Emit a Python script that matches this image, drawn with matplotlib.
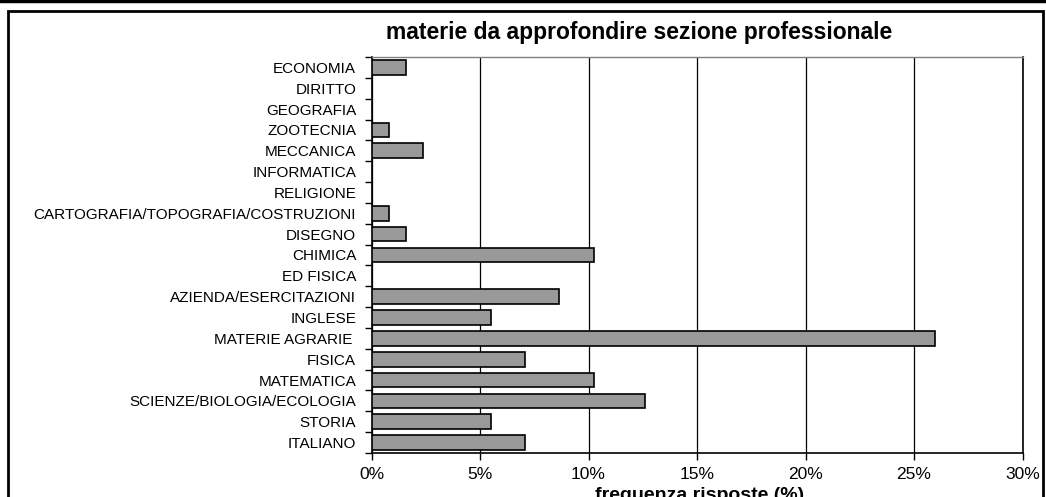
import matplotlib.pyplot as plt
import matplotlib.patches as mpatches
import matplotlib.lines as mlines
import numpy as np

# Dati (dal basso verso l'alto)
materie = ['ITALIANO', 'STORIA', 'SCIENZE/BIOLOGIA/ECOLOGIA', 'MATEMATICA', 'FISICA',
           'MATERIE AGRARIE ', 'INGLESE', 'AZIENDA/ESERCITAZIONI', 'ED FISICA', 'CHIMICA',
           'DISEGNO', 'CARTOGRAFIA/TOPOGRAFIA/COSTRUZIONI', 'RELIGIONE', 'INFORMATICA',
           'MECCANICA', 'ZOOTECNIA', 'GEOGRAFIA', 'DIRITTO', 'ECONOMIA']
frequenze = [7.09, 5.51, 12.60, 10.24, 7.09,
             25.98, 5.51, 8.66, 0.0, 10.24,
             1.57, 0.79, 0.0, 0.0,
             2.36, 0.79, 0.0, 0.0, 1.57]
x_ticks = [0, 5, 10, 15, 20, 25, 30]
x_labels = ['0%', '5%', '10%', '15%', '20%', '25%', '30%']

plt.rcParams['font.family'] = ['Liberation Sans', 'DejaVu Sans']

W, H = 1046, 497
fig = plt.figure(figsize=(W / 100, H / 100), dpi=100)
ax = fig.add_axes([371.5 / W, 1 - 453 / H, (1022.5 - 371.5) / W, (453 - 57) / H])

y = np.arange(len(materie))
ax.barh(y, frequenze, height=0.7, color='#999999', edgecolor='black', linewidth=1.2, zorder=3)

ax.set_xlim(0, 30)
ax.set_ylim(-0.5, len(materie) - 0.5)

# asse x
ax.set_xticks(x_ticks)
ax.set_xticklabels(x_labels, fontsize=12.5)
ax.tick_params(axis='x', direction='out', length=5, width=1, pad=5, color='black')
ax.grid(True, axis='x', color='black', linewidth=0.9, zorder=0)
ax.set_axisbelow(True)

# asse y: etichette al centro, tacche ai confini
ax.set_yticks(y)
ax.set_yticklabels(materie, fontsize=11)
ax.set_yticks(np.arange(-0.5, len(materie), 1), minor=True)
ax.tick_params(axis='y', which='major', length=0, pad=11)
ax.tick_params(axis='y', which='minor', direction='out', length=5, width=1, color='black')

for lato in ['left', 'bottom', 'right']:
    ax.spines[lato].set_color('black')
    ax.spines[lato].set_linewidth(1.2)
ax.spines['top'].set_color('#808080')
ax.spines['top'].set_linewidth(1)

# titolo e etichetta asse x
fig.text(639 / W, 1 - 33 / H, 'materie da approfondire sezione professionale',
         ha='center', va='center', fontsize=16.5, fontweight='bold')
fig.text(700 / W, 1 - 495 / H, 'frequenza risposte (%)',
         ha='center', va='center', fontsize=14, fontweight='bold')

# cornice del grafico
fig.patches.append(mpatches.Rectangle((8 / W, -0.1), (1043 - 8) / W, 1.1 - 11 / H,
                                      transform=fig.transFigure, fill=False,
                                      edgecolor='black', linewidth=2))
fig.lines.append(mlines.Line2D([0, 1], [1 - 1 / H, 1 - 1 / H], transform=fig.transFigure,
                               color='black', linewidth=2.5))

plt.savefig('out.png', dpi=100)
